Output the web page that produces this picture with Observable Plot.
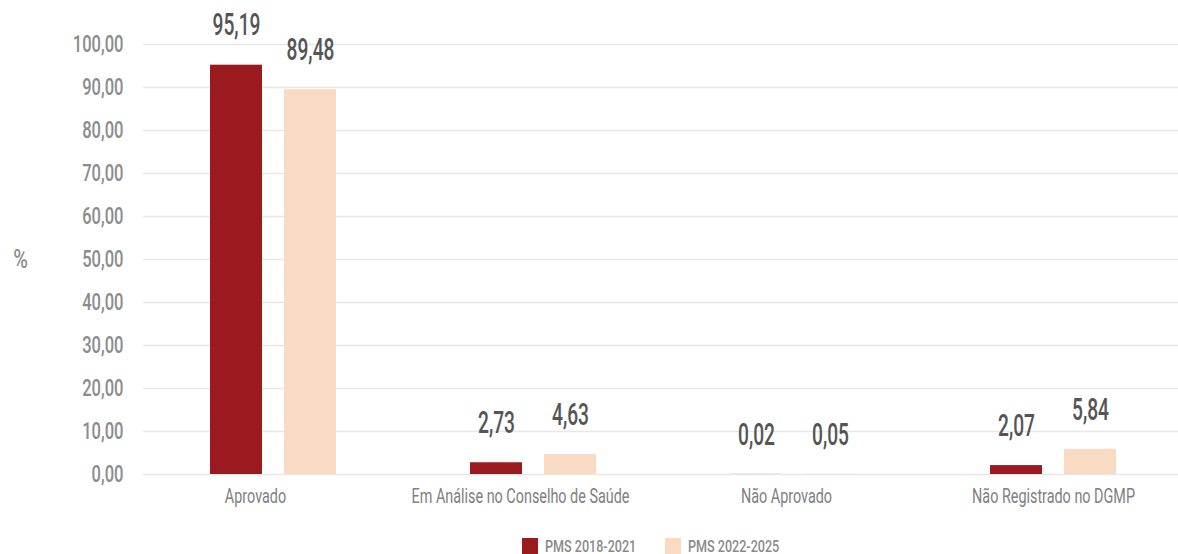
<!DOCTYPE html>
<html>
<head>
<meta charset="utf-8">
<script src="https://cdn.jsdelivr.net/npm/d3@7"></script>
<script src="https://cdn.jsdelivr.net/npm/@observablehq/plot@0.6"></script>
<style>
  html, body { margin: 0; padding: 0; background: #fff; }
  body { width: 1178px; height: 554px; overflow: hidden; position: relative; font-family: Roboto, "DejaVu Sans", sans-serif; }
  .sw { position: absolute; width: 16px; height: 16px; top: 538px; }
  .lt { position: absolute; top: 535px; font-size: 17px; font-weight: 500; color: #8a8a8a; transform: scaleX(0.74); transform-origin: left center; white-space: nowrap; line-height: 22px; }
</style>
</head>
<body>
<div id="chart"></div>
<div id="legend"></div>
<script>
const categories = ["Aprovado", "Em Análise no Conselho de Saúde", "Não Aprovado", "Não Registrado no DGMP"];
const series = ["PMS 2018-2021", "PMS 2022-2025"];
const values2018 = [95.19, 2.73, 0.02, 2.07];
const values2022 = [89.48, 4.63, 0.05, 5.84];
const yTicks = [0, 10, 20, 30, 40, 50, 60, 70, 80, 90, 100];
const colors = ["#9b1a1f", "#f8dbc2"];

const locale = d3.formatLocale({decimal: ",", thousands: ".", grouping: [3], currency: ["R$", ""]});
const fmt = locale.format(".2f");

const data = [];
categories.forEach((c, i) => {
  data.push({cat: c, series: series[0], value: values2018[i]});
  data.push({cat: c, series: series[1], value: values2022[i]});
});

const fontFam = 'Roboto, "DejaVu Sans", sans-serif';
// small horizontal nudges of the category labels, as in the reference layout
const labelNudge = [-18, -13, -7, 0];

const plot = Plot.plot({
  width: 1178,
  height: 530,
  marginLeft: 143,
  marginRight: -5,
  marginTop: 44,
  marginBottom: 56,
  style: {fontFamily: fontFam, background: "#fff", overflow: "hidden"},
  fx: {domain: categories, padding: 0, label: null},
  x: {domain: series, paddingInner: 0.293, paddingOuter: 0.88, axis: null},
  y: {domain: [0, 100], label: null},
  color: {domain: series, range: colors},
  marks: [
    Plot.ruleY(yTicks, {stroke: "#e8e8e8", strokeWidth: 1.5}),
    Plot.barY(data, {fx: "cat", x: "series", y: "value", fill: "series"}),
    Plot.text(data, {fx: "cat", x: "series", y: "value", text: d => fmt(d.value), dy: -40, fontSize: 32, fill: "#555555", fontWeight: 500, className: "sqv"}),
    Plot.axisY({ticks: yTicks, tickFormat: fmt, tickSize: 0, tickPadding: 20, fontSize: 24, fontWeight: 500, color: "#8c8c8c", label: null, className: "sqy"}),
    ...categories.map((c, i) => Plot.axisFx({ticks: [c], anchor: "bottom", tickSize: 0, tickPadding: 14, dx: labelNudge[i], fontSize: 20, color: "#808080", label: null, className: "sqx"})),
    Plot.text(["%"], {frameAnchor: "left", dx: -123, y: [50], textAnchor: "middle", fontSize: 25, fontWeight: 500, fill: "#8c8c8c", facetAnchor: "left", className: "sqp"})
  ]
});
document.getElementById("chart").appendChild(plot);

// horizontally condense every text (the reference uses a condensed face)
const squeeze = {sqv: 0.6, sqy: 0.69, sqx: 0.72, sqp: 0.8};
plot.querySelectorAll("text").forEach(t => {
  let s = 0.7;
  for (const k in squeeze) if (t.closest("." + k)) s = squeeze[k];
  let tr = t.getAttribute("transform") || "";
  const x = t.getAttribute("x");
  if (x != null && /^-?[\d.]+$/.test(x.trim())) {
    tr += ` translate(${x},0)`;
    t.removeAttribute("x");
  }
  t.setAttribute("transform", tr + ` scale(${s},1)`);
});

const legend = document.getElementById("legend");
const legendX = [[522, 545], [665, 688]];
series.forEach((s, i) => {
  const sw = document.createElement("span");
  sw.className = "sw"; sw.style.left = legendX[i][0] + "px"; sw.style.background = colors[i];
  const lt = document.createElement("span");
  lt.className = "lt"; lt.style.left = legendX[i][1] + "px"; lt.textContent = s;
  legend.appendChild(sw); legend.appendChild(lt);
});
</script>
</body>
</html>
